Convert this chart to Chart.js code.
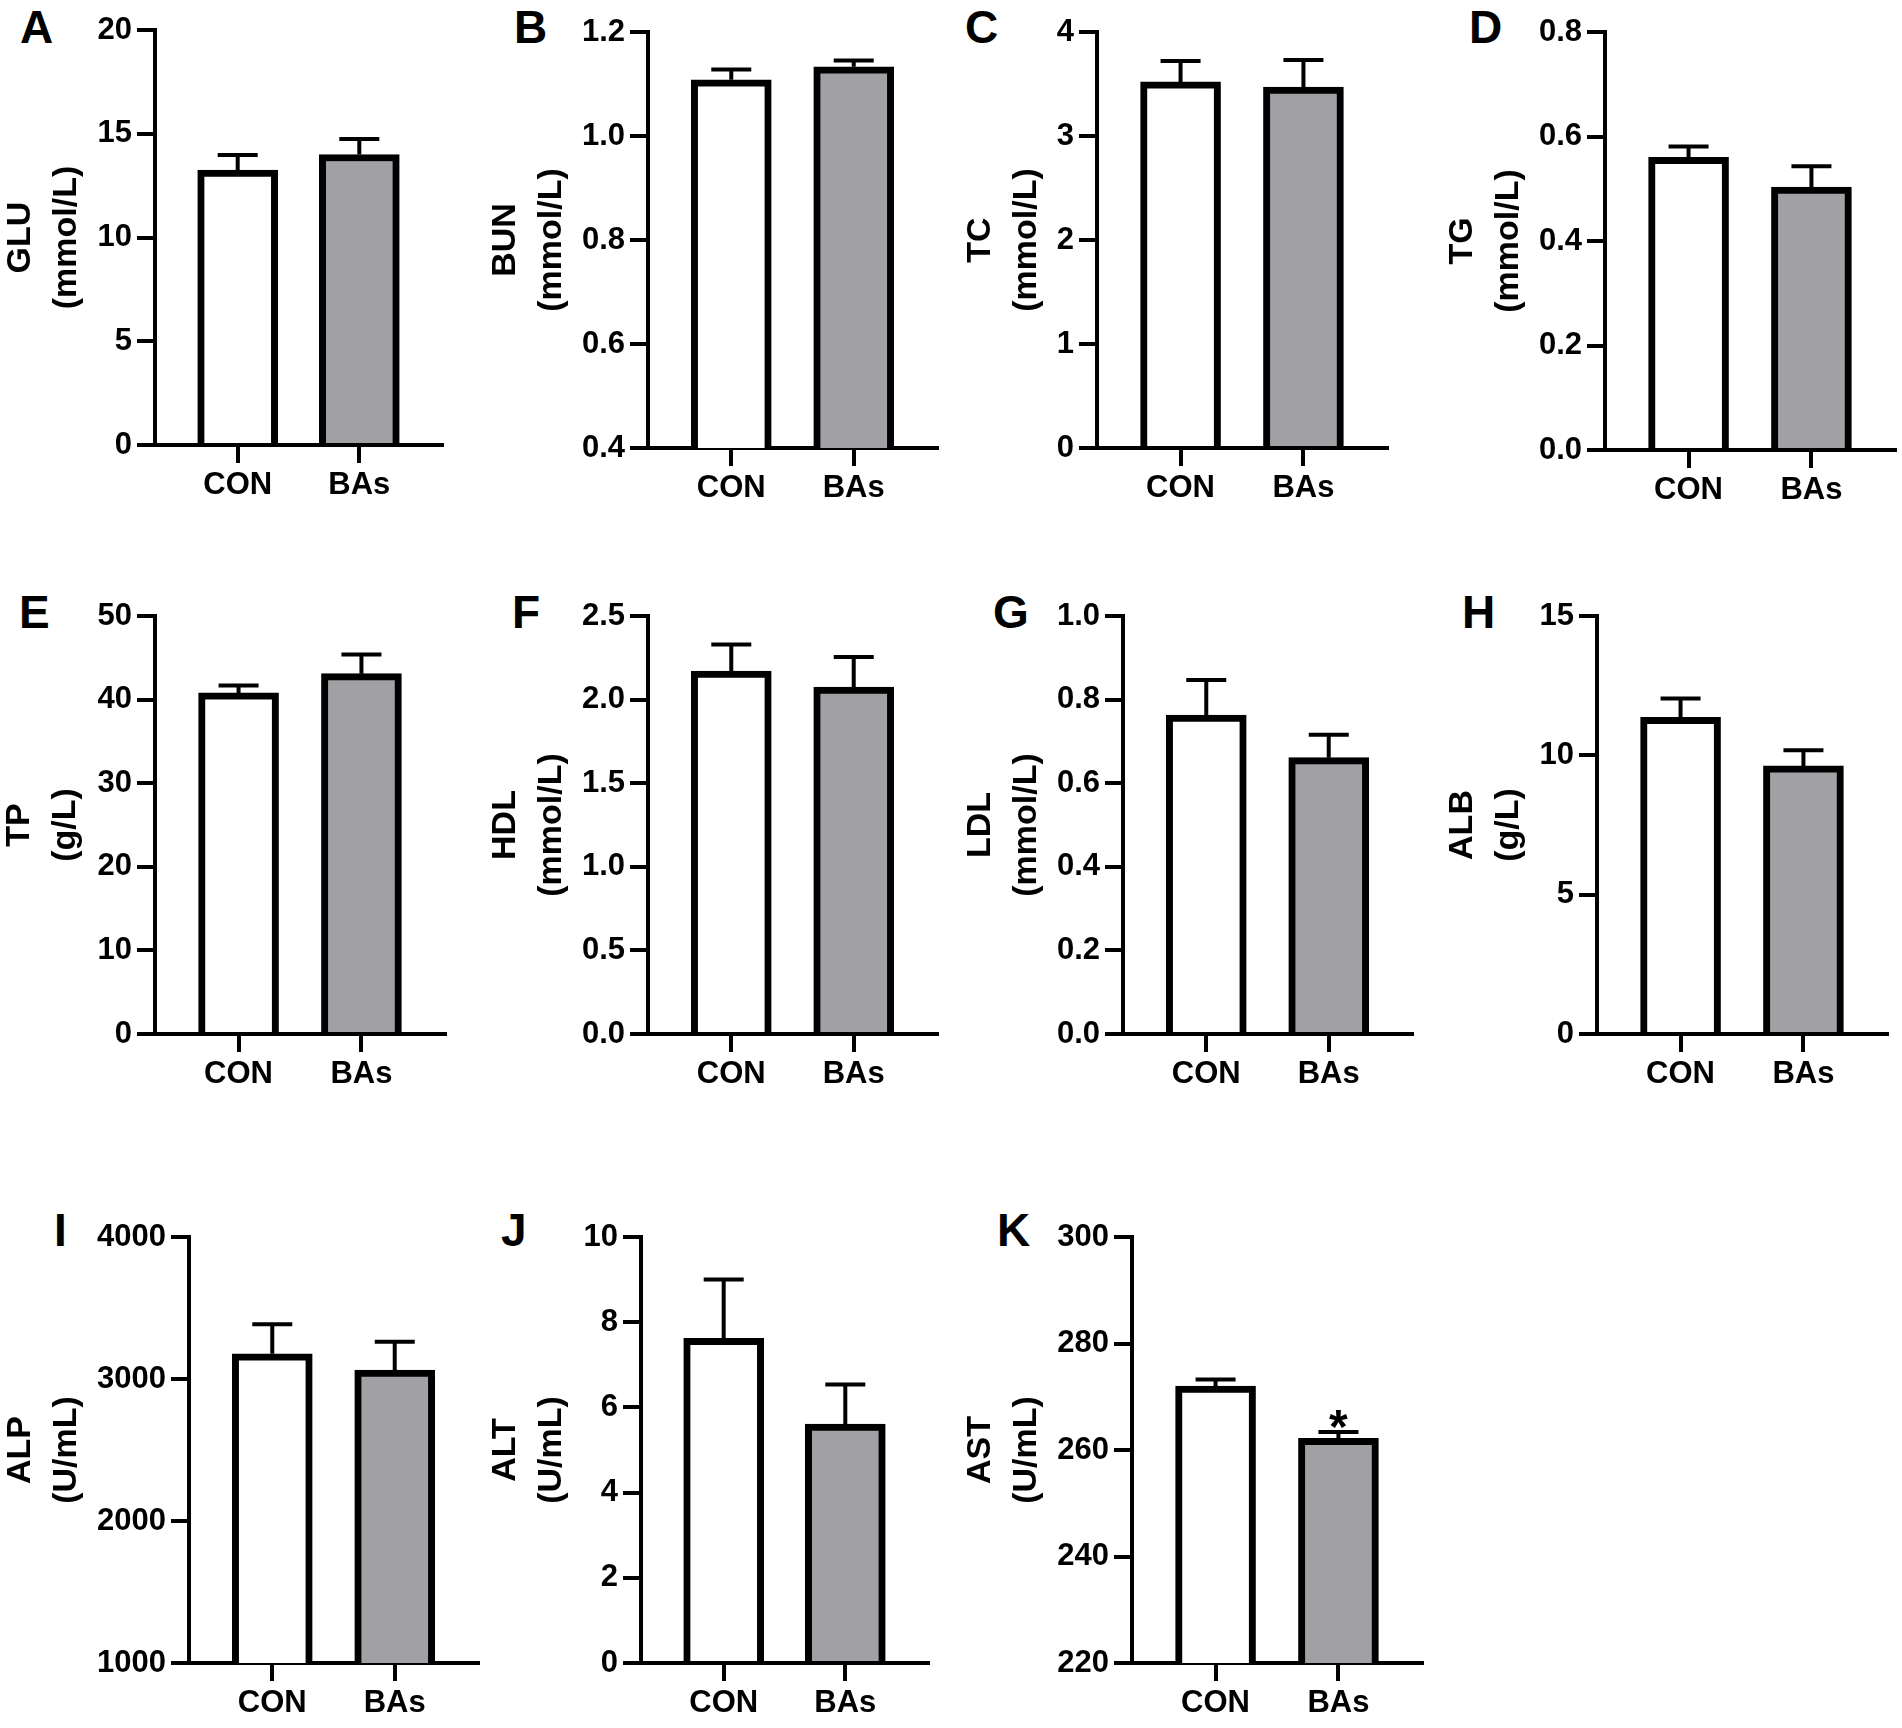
<!DOCTYPE html>
<html><head><meta charset="utf-8">
<script src="https://cdn.jsdelivr.net/npm/chart.js@4.4.1/dist/chart.umd.min.js"></script>
<style>
html,body{margin:0;padding:0;background:#fff;}
#page{position:relative;width:1902px;height:1728px;background:#fff;overflow:hidden;}
#page canvas{position:absolute;}
.lbl{position:absolute;font-family:"Liberation Sans",Arial,sans-serif;font-weight:bold;font-size:46px;line-height:1;color:#000;}
</style></head><body><div id="page"></div>
<script>
// ---- data ----
const categories = ['CON', 'BAs'];

const GLU_mean = [13.25, 14.0];   const GLU_sem = [0.73, 0.75];   const GLU_ticks = ['0', '5', '10', '15', '20'];
const BUN_mean = [1.108, 1.133];  const BUN_sem = [0.020, 0.012]; const BUN_ticks = ['0.4', '0.6', '0.8', '1.0', '1.2'];
const TC_mean  = [3.52, 3.47];    const TC_sem  = [0.20, 0.26];   const TC_ticks  = ['0', '1', '2', '3', '4'];
const TG_mean  = [0.560, 0.503];  const TG_sem  = [0.021, 0.040]; const TG_ticks  = ['0.0', '0.2', '0.4', '0.6', '0.8'];
const TP_mean  = [40.8, 43.1];    const TP_sem  = [0.9, 2.3];     const TP_ticks  = ['0', '10', '20', '30', '40', '50'];
const HDL_mean = [2.17, 2.075];   const HDL_sem = [0.16, 0.18];   const HDL_ticks = ['0.0', '0.5', '1.0', '1.5', '2.0', '2.5'];
const LDL_mean = [0.763, 0.661];  const LDL_sem = [0.084, 0.055]; const LDL_ticks = ['0.0', '0.2', '0.4', '0.6', '0.8', '1.0'];
const ALB_mean = [11.36, 9.62];   const ALB_sem = [0.68, 0.56];   const ALB_ticks = ['0', '5', '10', '15'];
const ALP_mean = [3177, 3063];    const ALP_sem = [209, 200];     const ALP_ticks = ['1000', '2000', '3000', '4000'];
const ALT_mean = [7.62, 5.61];    const ALT_sem = [1.38, 0.93];   const ALT_ticks = ['0', '2', '4', '6', '8', '10'];
const AST_mean = [272.0, 262.2];  const AST_sem = [1.25, 1.2];    const AST_ticks = ['220', '240', '260', '280', '300'];
const AST_sig  = ['', '*'];

const panelLetters = ['A','B','C','D','E','F','G','H','I','J','K'];

// ---- layout (pixels) ----
const FONT = '"Liberation Sans", Arial, sans-serif';
const panels = [
  {name:'GLU', unit:'(mmol/L)', mean:GLU_mean, sem:GLU_sem, ticks:GLU_ticks, col:0,    axisX:155,  yTop:30,   yBot:445,  xEnd:442,  off:21},
  {name:'BUN', unit:'(mmol/L)', mean:BUN_mean, sem:BUN_sem, ticks:BUN_ticks, col:480,  axisX:648,  yTop:32,   yBot:448,  xEnd:937,  off:26},
  {name:'TC',  unit:'(mmol/L)', mean:TC_mean,  sem:TC_sem,  ticks:TC_ticks,  col:960,  axisX:1097, yTop:32,   yBot:448,  xEnd:1387, off:21},
  {name:'TG',  unit:'(mmol/L)', mean:TG_mean,  sem:TG_sem,  ticks:TG_ticks,  col:1422, axisX:1605, yTop:32,   yBot:450,  xEnd:1895, off:41},
  {name:'TP',  unit:'(g/L)',    mean:TP_mean,  sem:TP_sem,  ticks:TP_ticks,  col:0,    axisX:155,  yTop:616,  yBot:1034, xEnd:445,  off:20},
  {name:'HDL', unit:'(mmol/L)', mean:HDL_mean, sem:HDL_sem, ticks:HDL_ticks, col:480,  axisX:648,  yTop:616,  yBot:1034, xEnd:937,  off:26},
  {name:'LDL', unit:'(mmol/L)', mean:LDL_mean, sem:LDL_sem, ticks:LDL_ticks, col:960,  axisX:1123, yTop:616,  yBot:1034, xEnd:1412, off:21},
  {name:'ALB', unit:'(g/L)',    mean:ALB_mean, sem:ALB_sem, ticks:ALB_ticks, col:1422, axisX:1597, yTop:616,  yBot:1034, xEnd:1887, off:41},
  {name:'ALP', unit:'(U/mL)',   mean:ALP_mean, sem:ALP_sem, ticks:ALP_ticks, col:0,    axisX:189,  yTop:1237, yBot:1663, xEnd:478,  off:21},
  {name:'ALT', unit:'(U/mL)',   mean:ALT_mean, sem:ALT_sem, ticks:ALT_ticks, col:480,  axisX:641,  yTop:1237, yBot:1663, xEnd:928,  off:26},
  {name:'AST', unit:'(U/mL)',   mean:AST_mean, sem:AST_sem, ticks:AST_ticks, col:960,  axisX:1132, yTop:1237, yBot:1663, xEnd:1422, off:21, sig:AST_sig}
];
const letterPos = [[20,4],[514,4],[965,4],[1469,4],[19,589],[512,589],[993,589],[1462,589],[54,1207],[501,1207],[997,1207]];

const page = document.getElementById('page');

panelLetters.forEach((t, i) => {
  const d = document.createElement('div');
  d.className = 'lbl';
  d.textContent = t;
  d.style.left = letterPos[i][0] + 'px';
  d.style.top = letterPos[i][1] + 'px';
  page.appendChild(d);
});

function errPlugin(p) {
  return {
    id: 'errbars',
    afterDatasetsDraw(chart) {
      const ctx = chart.ctx, xs = chart.scales.x, ys = chart.scales.y;
      ctx.save();
      ctx.strokeStyle = '#000';
      ctx.lineWidth = 4;
      p.mean.forEach((m, i) => {
        const x = xs.getPixelForValue(i + 1);
        const y0 = ys.getPixelForValue(m);
        const y1 = ys.getPixelForValue(m + p.sem[i]);
        ctx.beginPath();
        ctx.moveTo(x, y0);
        ctx.lineTo(x, y1);
        ctx.moveTo(x - 20, y1);
        ctx.lineTo(x + 20, y1);
        ctx.stroke();
        if (p.sig && p.sig[i]) {
          ctx.fillStyle = '#000';
          ctx.font = 'bold 48px ' + FONT;
          ctx.textAlign = 'center';
          ctx.textBaseline = 'alphabetic';
          ctx.fillText(p.sig[i], x, y1 + 11);
        }
      });
      ctx.restore();
    }
  };
}

panels.forEach(p => {
  const xAxisH = 75;
  const left = p.col;
  const top = p.yTop - 30;
  const width = p.xEnd + 6 - left;
  const height = (p.yBot - top) + xAxisH;
  const c = document.createElement('canvas');
  c.width = width; c.height = height;
  c.style.left = left + 'px'; c.style.top = top + 'px';
  c.style.width = width + 'px'; c.style.height = height + 'px';
  page.appendChild(c);
  const tickVals = p.ticks.map(Number);
  new Chart(c, {
    type: 'bar',
    data: {
      datasets: [{
        data: p.mean.map((v, i) => ({x: i + 1, y: v})),
        backgroundColor: ['#ffffff', '#a1a1a5'],
        borderColor: '#000000',
        borderWidth: 7,
        borderSkipped: 'start',
        barThickness: 80
      }]
    },
    options: {
      responsive: false,
      animation: false,
      devicePixelRatio: 1,
      layout: {padding: {top: 30, right: 6, left: 0, bottom: 0}},
      plugins: {legend: {display: false}, tooltip: {enabled: false}},
      scales: {
        x: {
          type: 'linear', min: 0.32, max: 2.68, offset: false,
          afterBuildTicks: s => { s.ticks = [{value: 1}, {value: 2}]; },
          afterFit: s => { s.height = xAxisH; },
          ticks: {
            callback: v => categories[v - 1],
            font: {family: FONT, size: 31, weight: 'bold'},
            color: '#000', padding: 4, maxRotation: 0, autoSkip: false
          },
          grid: {offset: false, drawOnChartArea: false, tickLength: 18, lineWidth: 4, color: '#000'},
          border: {width: 4, color: '#000'}
        },
        y: {
          min: tickVals[0], max: tickVals[tickVals.length - 1],
          afterBuildTicks: s => { s.ticks = tickVals.map(v => ({value: v})); },
          afterFit: s => { s.width = p.axisX - left; },
          ticks: {
            callback: (v, i) => p.ticks[i],
            font: {family: FONT, size: 31, weight: 'bold'},
            color: '#000', padding: 5, autoSkip: false
          },
          grid: {drawOnChartArea: false, tickLength: 18, lineWidth: 4, color: '#000'},
          border: {width: 4, color: '#000'},
          title: {
            display: true, text: [p.name, p.unit], color: '#000',
            font: {family: FONT, size: 34, weight: 'bold', lineHeight: 1.35},
            padding: {top: p.off - 23, bottom: 0}
          }
        }
      }
    },
    plugins: [errPlugin(p)]
  });
});
</script></body></html>
